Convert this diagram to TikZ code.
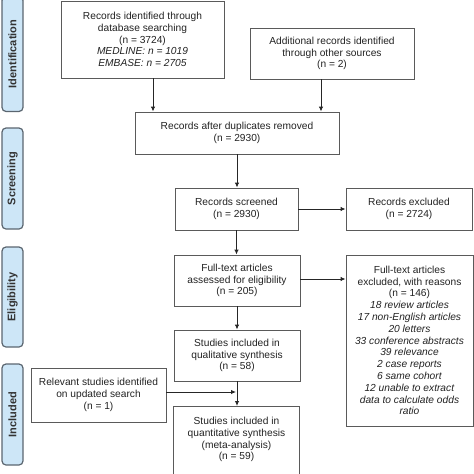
\documentclass[tikz,border=0pt]{standalone}
\usepackage{fontspec}
\setmainfont{Liberation Sans}
\usetikzlibrary{arrows.meta}
\definecolor{boxgray}{HTML}{5A5A5A}
\definecolor{phasegray}{HTML}{5B6670}
\definecolor{phaseblue}{HTML}{CDE6F7}
\definecolor{txt}{HTML}{222222}
\begin{document}
\begin{tikzpicture}[x=1pt,y=-1pt,
  box/.style={draw=boxgray, line width=0.9pt, align=center, inner sep=1pt,
    font=\fontsize{10.2}{11.8}\selectfont, text=txt},
  phase/.style={draw=phasegray, fill=phaseblue, rounded corners=4pt, line width=1.2pt,
    minimum height=21pt, inner sep=0pt, font=\bfseries\fontsize{11}{13}\selectfont,
    text=black!80, rotate=90},
  arr/.style={-{Latex[length=5pt,width=4.5pt]}, line width=0.9pt, draw=black!85}]
\clip (0,0) rectangle (474,474);
% phase sidebars
\node[phase, minimum width=115] (p1) at (12.5,54) {Identification};
\node[phase, minimum width=101] (p2) at (12.5,178.5) {Screening};
\node[phase, minimum width=100] (p3) at (12.5,297) {Eligibility};
\node[phase, minimum width=101] (p4) at (12.5,414.5) {Included};
% boxes
\node[box, minimum width=163, minimum height=77] (b1) at (142.5,39.5)
  {Records identified through\\database searching\\(n = 3724)\\\textit{MEDLINE: n = 1019}\\\textit{EMBASE: n = 2705}};
\node[box, minimum width=164, minimum height=51] (b2) at (332,53.5)
  {Additional records identified\\through other sources\\(n = 2)};
\node[box, minimum width=204, minimum height=42] (b3) at (237,133)
  {Records after duplicates removed\\(n = 2930)};
\node[box, minimum width=123, minimum height=42] (b4) at (236.5,209)
  {Records screened\\(n = 2930)};
\node[box, minimum width=126, minimum height=42] (b5) at (409,209)
  {Records excluded\\(n = 2724)};
\node[box, minimum width=126, minimum height=51] (b6) at (237,280.5)
  {Full-text articles\\assessed for eligibility\\(n = 205)};
\node[box, minimum width=127, minimum height=171] (b7) at (409.5,340.5)
  {Full-text articles\\excluded, with reasons\\(n = 146)\\\textit{18 review articles}\\\textit{17 non-English articles}\\\textit{20 letters}\\\textit{33 conference abstracts}\\\textit{39 relevance}\\\textit{2 case reports}\\\textit{6 same cohort}\\\textit{12 unable to extract}\\\textit{data to calculate odds}\\\textit{ratio}};
\node[box, minimum width=126, minimum height=51] (b8) at (237,355.5)
  {Studies included in\\qualitative synthesis\\(n = 58)};
\node[box, minimum width=135, minimum height=54] (b9) at (98.5,395)
  {Relevant studies identified\\on updated search\\(n = 1)};
\node[box, minimum width=126, minimum height=76, anchor=north] (b10) at (236.5,406)
  {Studies included in\\quantitative synthesis\\(meta-analysis)\\(n = 59)\\\mbox{}};
% connectors
\draw[arr] ([xshift=10.5pt]b1.south) -- ([xshift=10.5pt]b1.south |- b3.north);
\draw[arr] ([xshift=-11pt]b2.south) -- ([xshift=-11pt]b2.south |- b3.north);
\draw[arr] (b3.south) -- (b3.south |- b4.north);
\draw[arr] (b4.east) -- (b5.west);
\draw[arr] (b4.south) -- (b4.south |- b6.north);
\draw[arr] ([yshift=1.5pt]b6.east) -- ([yshift=1.5pt]b6.east -| b7.west);
\draw[arr] (b6.south) -- (b8.north);
\draw[arr] (b8.south) -- (b8.south |- b10.north);
\draw[arr] ([yshift=3pt]b9.east) -- ([yshift=3pt,xshift=-1pt]b9.east -| b8.south);
\end{tikzpicture}
\end{document}
